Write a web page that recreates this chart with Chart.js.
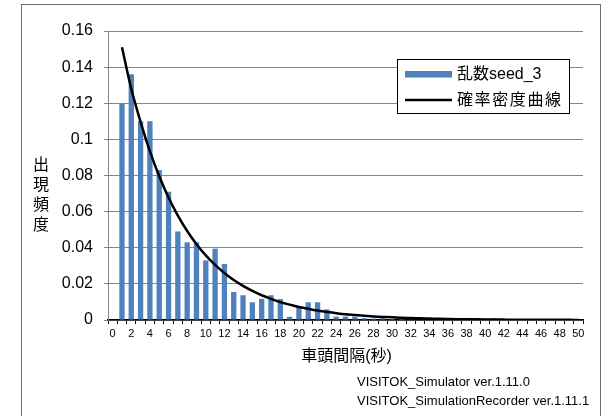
<!DOCTYPE html>
<html>
<head>
<meta charset="utf-8">
<script src="https://cdn.jsdelivr.net/npm/chart.js@4/dist/chart.umd.min.js"></script>
<style>
  html, body { margin: 0; padding: 0; background: #fff; }
  #wrap { width: 604px; height: 416px; position: relative; }
</style>
</head>
<body>
<div id="wrap"><canvas id="c" width="604" height="416"></canvas></div>
<script>
// Headway classes (seconds)
const headways = ['0','1','2','3','4','5','6','7','8','9','10','11','12','13','14','15','16','17','18','19','20',
  '21','22','23','24','25','26','27','28','29','30','31','32','33','34','35','36','37','38','39','40',
  '41','42','43','44','45','46','47','48','49','50'];

// Observed relative frequency for random seed 3
const seedFreq = [0, 0.120, 0.136, 0.110, 0.110, 0.083, 0.071, 0.049, 0.043, 0.043, 0.033,
  0.0395, 0.031, 0.0155, 0.0137, 0.0098, 0.0117, 0.0137, 0.0116, 0.0018, 0.0075,
  0.0098, 0.0098, 0.0059, 0.0019, 0.0019, 0.0018, 0.0010, 0.0008, 0.0010, 0.0006,
  0.0010, 0.0004, 0, 0, 0.0002, 0, 0, 0, 0.0010, 0,
  0.0010, 0, 0, 0, 0, 0, 0, 0, 0, 0];

// Probability density curve
const density = [null, 0.151, 0.128, 0.1096, 0.0934, 0.0796, 0.0678, 0.0578, 0.0493, 0.0420, 0.0358,
  0.0305, 0.0260, 0.0221, 0.0189, 0.0161, 0.0137, 0.0117, 0.0099, 0.0085, 0.0072,
  0.0062, 0.0052, 0.0045, 0.0038, 0.0032, 0.0028, 0.0024, 0.0020, 0.0017, 0.0015,
  0.0012, 0.0011, 0.0009, 0.0008, 0.00066, 0.00056, 0.00048, 0.00041, 0.00035, 0.0003,
  0.00025, 0.00021, 0.00018, 0.00016, 0.00013, 0.00011, 0.0001, 0.00008, 0.00007, 0.00006];

const seriesNames = ['乱数seed_3', '確率密度曲線'];
const yTitle = ['出', '現', '頻', '度'];
const xTitle = '車頭間隔(秒)';
const credits = ['VISITOK_Simulator ver.1.11.0', 'VISITOK_SimulationRecorder ver.1.11.1'];

const FONT = '"Liberation Sans", Arial, "Noto Sans CJK JP", sans-serif';

const decorations = {
  id: 'decorations',
  afterDraw(chart) {
    const ctx = chart.ctx;
    const area = chart.chartArea;
    ctx.save();

    // outer frame
    ctx.strokeStyle = '#6e6e6e';
    ctx.lineWidth = 1;
    ctx.strokeRect(21.5, 4.5, 579, 430);

    // vertical y-axis title, one character per line
    ctx.fillStyle = '#000';
    ctx.font = '16px ' + FONT;
    ctx.textAlign = 'center';
    ctx.textBaseline = 'middle';
    yTitle.forEach((ch, i) => ctx.fillText(ch, 41, 166 + i * 19.8));

    // x-axis title
    ctx.fillText(xTitle, (area.left + area.right) / 2 + 1, 357);

    // credits
    ctx.font = '13px ' + FONT;
    ctx.textAlign = 'left';
    credits.forEach((t, i) => ctx.fillText(t, 357, 382 + i * 19.5));

    // legend box
    const bx = 397.5, by = 59.5, bw = 172, bh = 54;
    ctx.fillStyle = '#fff';
    ctx.fillRect(bx, by, bw, bh);
    ctx.strokeStyle = '#000';
    ctx.lineWidth = 1;
    ctx.strokeRect(bx, by, bw, bh);

    const ds = chart.data.datasets;
    ctx.font = '16px ' + FONT;
    ctx.fillStyle = ds[0].backgroundColor;
    ctx.fillRect(405, 71, 47, 6.5);
    ctx.fillStyle = '#000';
    ctx.fillText(ds[0].label, 457, 74.5);

    ctx.strokeStyle = ds[1].borderColor;
    ctx.lineWidth = 2.5;
    ctx.beginPath();
    ctx.moveTo(405, 100);
    ctx.lineTo(452, 100);
    ctx.stroke();
    ctx.letterSpacing = '1.6px';
    ctx.fillText(ds[1].label, 457, 100.5);
    ctx.letterSpacing = '0px';

    ctx.restore();
  }
};

new Chart(document.getElementById('c'), {
  type: 'bar',
  data: {
    labels: headways,
    datasets: [
      {
        type: 'bar',
        label: seriesNames[0],
        data: seedFreq,
        backgroundColor: '#4F81BD',
        categoryPercentage: 1,
        barPercentage: 0.571,
        order: 2
      },
      {
        type: 'line',
        label: seriesNames[1],
        data: density,
        borderColor: '#000',
        borderWidth: 2.5,
        pointRadius: 0,
        fill: false,
        cubicInterpolationMode: 'monotone',
        spanGaps: false,
        order: 1
      }
    ]
  },
  options: {
    responsive: false,
    animation: false,
    events: [],
    layout: { padding: { top: 31, right: 21, left: 0, bottom: 0 } },
    plugins: {
      legend: { display: false },
      tooltip: { enabled: false },
      title: { display: false }
    },
    scales: {
      x: {
        grid: { display: true, drawOnChartArea: false, offset: true, tickLength: 4, color: '#000', lineWidth: 1 },
        border: { color: '#000', width: 1.5 },
        ticks: {
          autoSkip: false, maxRotation: 0, minRotation: 0, padding: 3,
          color: '#000', font: { size: 11, family: FONT },
          callback: (v, i) => (i % 2 === 0 ? headways[i] : '')
        },
        afterFit: s => { s.height = 96; }
      },
      y: {
        min: 0, max: 0.16,
        grid: { color: '#868686', lineWidth: 1, tickLength: 4 },
        border: { color: '#868686', width: 1 },
        ticks: {
          stepSize: 0.02, padding: 11,
          color: '#000', font: { size: 16, family: FONT },
          callback: v => String(+v.toFixed(2))
        },
        afterFit: s => { s.width = 108; }
      }
    }
  },
  plugins: [decorations]
});
</script>
</body>
</html>
